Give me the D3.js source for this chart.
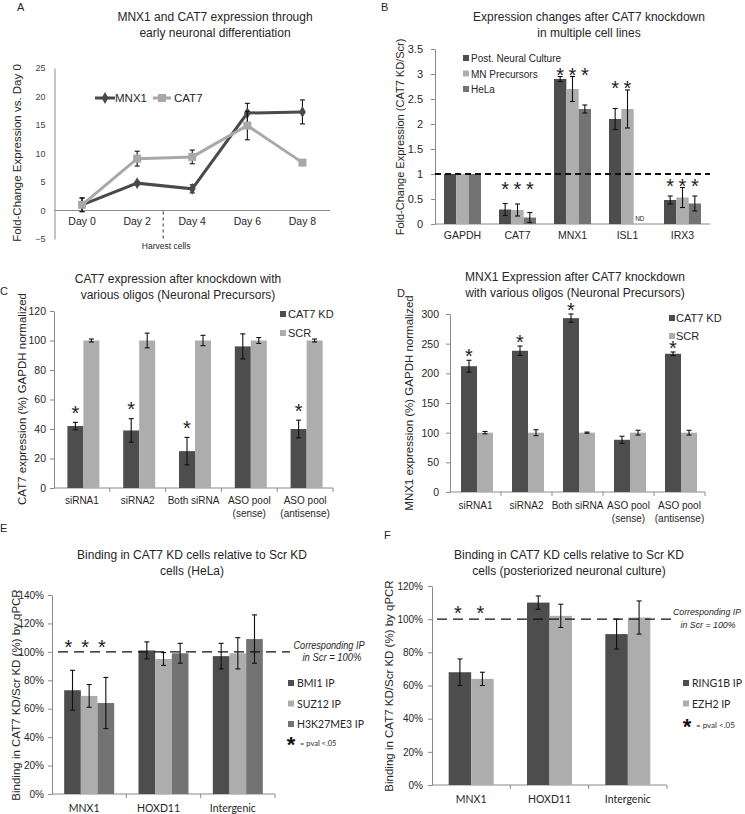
<!DOCTYPE html>
<html><head><meta charset="utf-8">
<script src="https://cdn.jsdelivr.net/npm/d3@7"></script>
<style>body{margin:0;background:#fff}svg{display:block}</style>
</head><body><svg id="c" width="745" height="814"></svg>
<script>
// ---------------- DATA ----------------
// Panel A
const daysA = ["Day 0","Day 2","Day 4","Day 6","Day 8"];
const mnx1A = [1.0, 4.8, 3.8, 17.1, 17.3];
const mnx1ErrA = [1.2, 0.3, 0.7, 1.7, 2.1];
const cat7A = [1.0, 9.1, 9.4, 14.9, 8.4];
const cat7ErrA = [1.2, 1.3, 1.2, 2.5, 0];
const ticksA = [-5, 0, 5, 10, 15, 20, 25];
// Panel B
const genesB = ["GAPDH","CAT7","MNX1","ISL1","IRX3"];
const seriesB = ["Post. Neural Culture","MN Precursors","HeLa"];
const postNeuralB = [1, 0.29, 2.90, 2.10, 0.48];
const postNeuralErrB = [0, 0.12, 0.05, 0.21, 0.08];
const mnPrecB = [1, 0.28, 2.70, 2.30, 0.53];
const mnPrecErrB = [0, 0.12, 0.25, 0.38, 0.20];
const helaB = [1, 0.13, 2.30, null, 0.41];
const helaErrB = [0, 0.10, 0.08, null, 0.15];
const starCountB = [0, 3, 3, 2, 3];
const starLevelB = [null, 0.80, 3.08, 2.82, 0.86];
const ticksB = [0, 0.5, 1, 1.5, 2, 2.5, 3, 3.5];
// Panel C
const oligos = ["siRNA1","siRNA2","Both siRNA","ASO pool\n(sense)","ASO pool\n(antisense)"];
const seriesCD = ["CAT7 KD","SCR"];
const kdC = [42, 39, 25, 96, 40];
const kdErrC = [2.5, 8, 9.3, 8.5, 6];
const scrC = [100, 100, 100, 100, 100];
const scrErrC = [1, 5, 3.5, 2, 1];
const sigC = [true, true, true, false, true];
const ticksC = [0, 20, 40, 60, 80, 100, 120];
// Panel D
const kdD = [212, 238, 293, 88, 233];
const kdErrD = [10, 8, 7, 6, 3];
const scrD = [100, 100, 100, 100, 100];
const scrErrD = [2, 5, 1, 4, 4];
const sigD = [true, true, true, false, true];
const ticksD = [0, 50, 100, 150, 200, 250, 300];
// Panel E
const lociEF = ["MNX1","HOXD11","Intergenic"];
const seriesE = ["BMI1 IP","SUZ12 IP","H3K27ME3 IP"];
const bmi1E = [73, 101, 97];
const bmi1ErrE = [14, 6, 9];
const suz12E = [69, 95, 99];
const suz12ErrE = [8, 4.5, 11];
const h3kE = [64, 99, 109];
const h3kErrE = [18, 7, 17];
const sigE = [true, false, false];
const ticksE = [0, 20, 40, 60, 80, 100, 120, 140];
// Panel F
const seriesF = ["RING1B IP","EZH2 IP"];
const ring1bF = [68, 110, 91];
const ring1bErrF = [8, 4, 9];
const ezh2F = [64, 102, 101];
const ezh2ErrF = [4, 7, 10];
const sigF = [true, false, false];
const ticksF = [0, 20, 40, 60, 80, 100, 120];

// ---------------- STYLE ----------------
const DARK = "#4d4d4d", LIGHT = "#adadad", MID = "#737373";
const AX = "#8a8a8a", TXT = "#262626";
const ARIAL = "'Liberation Sans', Arial, sans-serif";
const CAL = "Lato, 'Open Sans', sans-serif";
const svg = d3.select("#c");
svg.append("rect").attr("width",745).attr("height",814).attr("fill","#fff");

function txt(g, x, y, s, o = {}) {
  const t = g.append("text").attr("x", x).attr("y", y).text(s)
    .attr("font-family", o.font || ARIAL).attr("font-size", o.size || 12)
    .attr("fill", o.fill || TXT).attr("text-anchor", o.anchor || "start");
  if (o.italic) t.attr("font-style", "italic");
  if (o.weight) t.attr("font-weight", o.weight);
  if (o.len) t.attr("textLength", o.len).attr("lengthAdjust", "spacingAndGlyphs");
  return t;
}
function title(g, cx, y1, lines, size) {
  lines.forEach((l, i) => txt(g, cx, y1 + i * 16, l, {anchor: "middle", size: size || 12}));
}
function yLabel(g, x, cy, s, size, font) {
  g.append("text").attr("transform", `translate(${x},${cy}) rotate(-90)`)
    .attr("text-anchor", "middle").attr("font-family", font || ARIAL)
    .attr("font-size", size).attr("fill", TXT).text(s);
}
function yAxis(g, y, x0, ticks, fmt, size, pad) {
  const a = d3.axisLeft(y).tickValues(ticks).tickFormat(fmt).tickSize(4).tickSizeOuter(0).tickPadding(pad);
  const gy = g.append("g").attr("transform", `translate(${x0},0)`).call(a);
  gy.select(".domain").attr("stroke", AX);
  gy.selectAll(".tick line").attr("stroke", AX);
  gy.selectAll(".tick text").attr("font-family", ARIAL).attr("font-size", size).attr("fill", TXT);
  return gy;
}
function errBar(g, x, yTop, yBot, w) {
  g.append("line").attr("x1", x).attr("x2", x).attr("y1", yTop).attr("y2", yBot).attr("stroke", "#111").attr("stroke-width", 1.1);
  [yTop, yBot].forEach(yy => g.append("line").attr("x1", x - w / 2).attr("x2", x + w / 2).attr("y1", yy).attr("y2", yy).attr("stroke", "#111").attr("stroke-width", 1.1));
}
function star(g, cx, cy, size) {
  g.append("text").attr("x", cx).attr("y", cy + size * 0.58).attr("text-anchor", "middle")
    .attr("font-family", ARIAL).attr("font-size", size).attr("fill", "#222").text("*");
}

// generic grouped bar chart
function bars(o) {
  const g = o.g;
  const x = d3.scaleBand().domain(o.cats).range(o.xr);
  const y = d3.scaleLinear().domain(o.yd).range(o.yr);
  const bw = x.bandwidth();
  const inner = d3.scaleBand().domain(d3.range(o.vals.length))
    .range([(bw - o.groupW) / 2 + (o.shift || 0), (bw + o.groupW) / 2 + (o.shift || 0)]);
  yAxis(g, y, o.xr[0], o.ticks, o.fmt, o.tickSize, o.pad);
  g.append("line").attr("x1", o.xr[0]).attr("x2", o.xr[1]).attr("y1", y(0)).attr("y2", y(0)).attr("stroke", AX);
  if (o.boundTicks) {
    o.cats.forEach(c => {
      const xx = x(c) + bw;
      g.append("line").attr("x1", xx).attr("x2", xx).attr("y1", y(0)).attr("y2", y(0) + 4).attr("stroke", AX);
    });
  }
  o.vals.forEach((vals, si) => {
    const data = o.cats.map((c, i) => ({c, v: vals[i]})).filter(d => d.v != null);
    g.selectAll(null).data(data).join("rect")
      .attr("x", d => x(d.c) + inner(si)).attr("width", inner.bandwidth())
      .attr("y", d => y(d.v)).attr("height", d => y(0) - y(d.v)).attr("fill", o.colors[si]);
  });
  if (o.after) o.after(x, y, inner);
  o.vals.forEach((vals, si) => {
    o.cats.forEach((c, i) => {
      const v = vals[i], e = o.errs[si][i];
      if (v == null || !e) return;
      errBar(g, x(c) + inner(si) + inner.bandwidth() / 2, y(v + e), y(v - e), o.cap || 5);
    });
  });
  o.cats.forEach(c => {
    c.split("\n").forEach((l, k) => txt(g, x(c) + bw / 2 + (o.labShift || 0), o.labY + k * 13, l, {anchor: "middle", size: o.labSize, font: o.labFont}));
  });
  return {x, y, inner, bw};
}

// ---------------- PANEL A ----------------
{
  const g = svg.append("g");
  txt(g, 17, 11, "A", {size: 11});
  title(g, 215, 21, ["MNX1 and CAT7 expression through", "early neuronal differentiation"], 12);
  const x = d3.scaleBand().domain(daysA).range([54.5, 330]);
  const y = d3.scaleLinear().domain([-5, 25]).range([239, 68]);
  const cx = d => x(d) + x.bandwidth() / 2;
  const gy = yAxis(g, y, 54.5, ticksA, d3.format("d"), 9, 5);
  gy.selectAll(".tick line").remove();
  gy.selectAll(".tick text").attr("fill", "#444");
  g.append("line").attr("x1", 54.5).attr("x2", 330).attr("y1", y(0)).attr("y2", y(0)).attr("stroke", AX);
  daysA.forEach(d => txt(g, cx(d), 225, d, {anchor: "middle", size: 10.5}));
  yLabel(g, 21, 153, "Fold-Change Expression vs. Day 0", 11.5);
  const hx = x("Day 4") - 1.5;
  g.append("line").attr("x1", hx).attr("x2", hx).attr("y1", y(0) + 1).attr("y2", 240)
    .attr("stroke", "#333").attr("stroke-dasharray", "3,3");
  txt(g, hx + 3, 249, "Harvest cells", {anchor: "middle", size: 8.5});
  const line = d3.line().x((d, i) => cx(daysA[i])).y(d => y(d));
  const series = [
    {v: mnx1A, e: mnx1ErrA, c: "#4a4a4a", sym: d3.symbolDiamond, sz: 40},
    {v: cat7A, e: cat7ErrA, c: "#a8a8a8", sym: d3.symbolSquare, sz: 64}
  ];
  series.forEach(s => {
    s.v.forEach((v, i) => { if (s.e[i]) errBar(g, cx(daysA[i]), y(v + s.e[i]), y(v - s.e[i]), 5); });
    g.append("path").attr("d", line(s.v)).attr("fill", "none").attr("stroke", s.c).attr("stroke-width", 3);
    g.selectAll(null).data(s.v).join("path")
      .attr("transform", (d, i) => `translate(${cx(daysA[i])},${y(d)})`)
      .attr("d", d3.symbol(s.sym, s.sz)).attr("fill", s.c);
  });
  g.append("line").attr("x1", 95).attr("x2", 115).attr("y1", 98).attr("y2", 98).attr("stroke", "#4a4a4a").attr("stroke-width", 3);
  g.append("path").attr("transform", "translate(105,98)").attr("d", d3.symbol(d3.symbolDiamond, 40)).attr("fill", "#4a4a4a");
  txt(g, 115, 102, "MNX1", {size: 11.5});
  g.append("line").attr("x1", 153).attr("x2", 171).attr("y1", 98).attr("y2", 98).attr("stroke", "#a8a8a8").attr("stroke-width", 3);
  g.append("path").attr("transform", "translate(162,98)").attr("d", d3.symbol(d3.symbolSquare, 64)).attr("fill", "#a8a8a8");
  txt(g, 174, 102, "CAT7", {size: 11.5});
}

// ---------------- PANEL B ----------------
{
  const g = svg.append("g");
  txt(g, 381, 11, "B", {size: 11});
  title(g, 589, 21, ["Expression changes after CAT7 knockdown", "in multiple cell lines"], 12);
  const colors = [DARK, LIGHT, MID];
  const r = bars({
    g, cats: genesB, xr: [435, 710], yd: [0, 3.5], yr: [224, 49], ticks: ticksB,
    fmt: d3.format(""), tickSize: 11, pad: 8, groupW: 37,
    vals: [postNeuralB, mnPrecB, helaB], errs: [postNeuralErrB, mnPrecErrB, helaErrB],
    colors, labY: 239, labSize: 10.5,
    after: (x, y) => {
      g.append("line").attr("x1", 435).attr("x2", 710).attr("y1", y(1)).attr("y2", y(1))
        .attr("stroke", "#111").attr("stroke-width", 1.8).attr("stroke-dasharray", "6,4");
    }
  });
  genesB.forEach((c, i) => {
    for (let k = 0; k < starCountB[i]; k++)
      star(g, r.x(c) + r.inner(k) + r.inner.bandwidth() / 2, r.y(starLevelB[i]), 20);
  });
  txt(g, r.x("ISL1") + r.inner(2) + r.inner.bandwidth() / 2, 221, "ND", {anchor: "middle", size: 6.5});
  yLabel(g, 404, 137, "Fold-Change Expression (CAT7 KD/Scr)", 11);
  seriesB.forEach((s, i) => {
    g.append("rect").attr("x", 463).attr("y", 55 + i * 15.5).attr("width", 6).attr("height", 6).attr("fill", colors[i]);
    txt(g, 471, 62 + i * 15.5, s, {size: 10});
  });
}

// ---------------- PANEL C ----------------
{
  const g = svg.append("g");
  txt(g, 0, 295, "C", {size: 11});
  title(g, 178, 283, ["CAT7 expression after knockdown with", "various oligos (Neuronal Precursors)"], 12);
  const colors = [DARK, LIGHT];
  const r = bars({
    g, cats: oligos, xr: [54, 333], yd: [0, 120], yr: [488, 311], ticks: ticksC,
    fmt: d3.format("d"), tickSize: 10.5, pad: 4, groupW: 32, shift: 1.5, boundTicks: true,
    vals: [kdC, scrC], errs: [kdErrC, scrErrC], colors, labY: 504, labSize: 10
  });
  oligos.forEach((c, i) => {
    if (sigC[i]) star(g, r.x(c) + r.inner(0) + r.inner.bandwidth() / 2, r.y(kdC[i] + kdErrC[i]) - 14, 20);
  });
  yLabel(g, 26, 399, "CAT7 expression (%) GAPDH normalized", 11.5);
  seriesCD.forEach((s, i) => {
    g.append("rect").attr("x", 280).attr("y", 311 + i * 19).attr("width", 6).attr("height", 6).attr("fill", colors[i]);
    txt(g, 288, 318 + i * 19, s, {size: 11});
  });
}

// ---------------- PANEL D ----------------
{
  const g = svg.append("g");
  txt(g, 397, 297, "D", {size: 11});
  title(g, 575, 281, ["MNX1 Expression after CAT7 knockdown", "with various oligos (Neuronal Precursors)"], 12);
  const colors = [DARK, LIGHT];
  const r = bars({
    g, cats: oligos, xr: [450, 705], yd: [0, 300], yr: [492, 314], ticks: ticksD,
    fmt: d3.format("d"), tickSize: 10.5, pad: 7, groupW: 32, shift: 1.5, boundTicks: true,
    vals: [kdD, scrD], errs: [kdErrD, scrErrD], colors, labY: 509, labSize: 10
  });
  oligos.forEach((c, i) => {
    if (sigD[i]) star(g, r.x(c) + r.inner(0) + r.inner.bandwidth() / 2, r.y(kdD[i] + kdErrD[i]) - 9, 20);
  });
  yLabel(g, 413, 403, "MNX1 expression (%) GAPDH normalized", 11.5);
  seriesCD.forEach((s, i) => {
    g.append("rect").attr("x", 669).attr("y", 315 + i * 18).attr("width", 6).attr("height", 6).attr("fill", colors[i]);
    txt(g, 676, 322 + i * 18, s, {size: 11});
  });
}

// ---------------- PANEL E ----------------
{
  const g = svg.append("g");
  txt(g, 0, 532, "E", {size: 11});
  title(g, 192, 559, ["Binding in CAT7 KD cells relative to Scr KD", "cells (HeLa)"], 12);
  const colors = [DARK, LIGHT, MID];
  const r = bars({
    g, cats: lociEF, xr: [52, 275], yd: [0, 140], yr: [794, 595], ticks: ticksE,
    fmt: d => d + "%", tickSize: 10, pad: 4, groupW: 50, boundTicks: true,
    vals: [bmi1E, suz12E, h3kE], errs: [bmi1ErrE, suz12ErrE, h3kErrE], colors,
    labY: 812, labSize: 10.5, labFont: CAL, labShift: -5,
    after: (x, y) => {
      g.append("line").attr("x1", 58).attr("x2", 290).attr("y1", y(100)).attr("y2", y(100))
        .attr("stroke", "#111").attr("stroke-width", 1.4).attr("stroke-dasharray", "10,6");
    }
  });
  lociEF.forEach((c, i) => {
    if (sigE[i]) seriesE.forEach((s, k) => star(g, r.x(c) + r.inner(k) + r.inner.bandwidth() / 2 - 4, r.y(107), 20));
  });
  yLabel(g, 20, 695, "Binding in CAT7 KD/Scr KD (%) by qPCR", 11.5);
  txt(g, 329, 649, "Corresponding IP", {anchor: "middle", size: 10, italic: true, len: 71});
  txt(g, 332, 661, "in Scr = 100%", {anchor: "middle", size: 10, italic: true, len: 59});
  seriesE.forEach((s, i) => {
    g.append("rect").attr("x", 288).attr("y", 680 + i * 20.5).attr("width", 6).attr("height", 6).attr("fill", colors[i]);
    txt(g, 297, 687 + i * 20.5, s, {size: 10.5, font: CAL});
  });
  txt(g, 291, 752, "*", {anchor: "middle", size: 22, weight: "bold", fill: "#111"});
  txt(g, 300, 746, "= pval <.05", {size: 7.5, font: CAL});
}

// ---------------- PANEL F ----------------
{
  const g = svg.append("g");
  txt(g, 384, 539, "F", {size: 11});
  title(g, 569, 559, ["Binding in CAT7 KD cells relative to Scr KD", "cells (posteriorized neuronal culture)"], 12);
  const colors = [DARK, LIGHT];
  const r = bars({
    g, cats: lociEF, xr: [432, 667], yd: [0, 120], yr: [785, 586], ticks: ticksF,
    fmt: d => d + "%", tickSize: 10, pad: 5, groupW: 45, boundTicks: true,
    vals: [ring1bF, ezh2F], errs: [ring1bErrF, ezh2ErrF], colors,
    labY: 803, labSize: 10.5, labFont: CAL,
    after: (x, y) => {
      g.append("line").attr("x1", 437).attr("x2", 673).attr("y1", y(100)).attr("y2", y(100))
        .attr("stroke", "#111").attr("stroke-width", 1.4).attr("stroke-dasharray", "10,6");
    }
  });
  lociEF.forEach((c, i) => {
    if (sigF[i]) seriesF.forEach((s, k) => star(g, r.x(c) + r.inner(k) + r.inner.bandwidth() / 2 - 2, r.y(106.5), 20));
  });
  yLabel(g, 393, 686, "Binding in CAT7 KD/Scr KD (%) by qPCR", 11.5);
  txt(g, 707, 615, "Corresponding IP", {anchor: "middle", size: 9.3, italic: true, len: 68});
  txt(g, 708, 628, "in Scr = 100%", {anchor: "middle", size: 9.3, italic: true, len: 55});
  seriesF.forEach((s, i) => {
    g.append("rect").attr("x", 683).attr("y", 680 + i * 20.5).attr("width", 6).attr("height", 6).attr("fill", colors[i]);
    txt(g, 692, 687 + i * 20.5, s, {size: 10.5, font: CAL});
  });
  txt(g, 687, 734, "*", {anchor: "middle", size: 22, weight: "bold", fill: "#111"});
  txt(g, 696, 728, "= pval <.05", {size: 8, font: CAL});
}
</script></body></html>
